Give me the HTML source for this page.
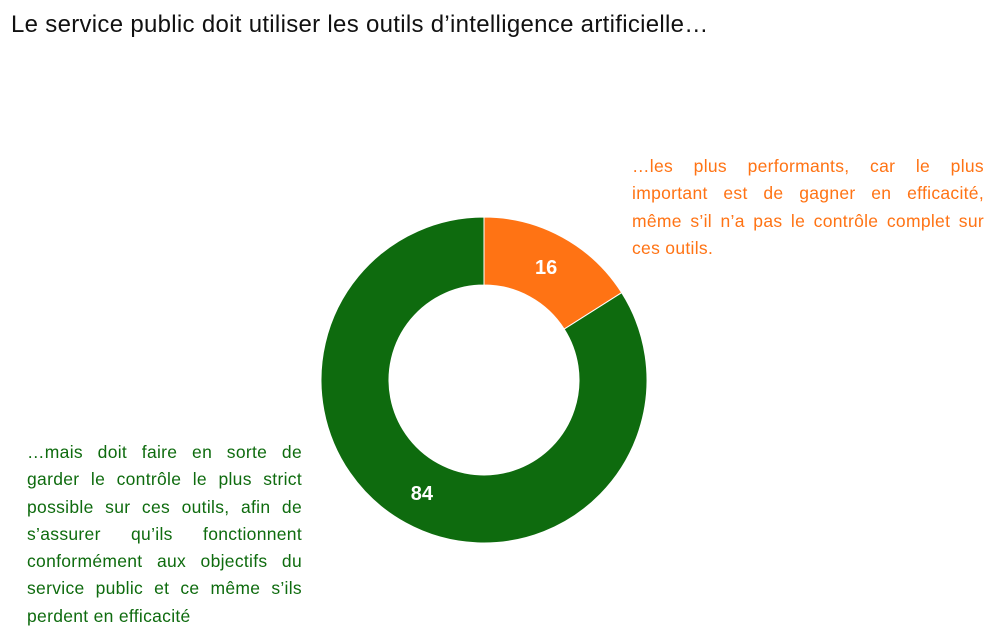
<!DOCTYPE html>
<html><head><meta charset="utf-8">
<style>
body{margin:0;width:999px;height:636px;background:#fff;font-family:"Liberation Sans",sans-serif;position:relative;overflow:hidden}
.title{position:absolute;left:11px;top:11px;font-size:24px;letter-spacing:0.3px;color:#111;white-space:nowrap}
.ann{position:absolute;font-size:17.5px;line-height:27.3px;letter-spacing:0.3px}
.ann div{text-align:justify;text-align-last:justify;white-space:nowrap}
.ann div.last{text-align-last:left}
#a1{left:632px;top:153px;width:352px;color:#FF7314}
#a2{left:27px;top:439px;width:275px;color:#0E6B0E}
svg{position:absolute;left:0;top:0}
</style></head><body>
<div class="title">Le service public doit utiliser les outils d’intelligence artificielle…</div>
<div class="ann" id="a1">
<div>…les plus performants, car le plus</div>
<div>important est de gagner en efficacité,</div>
<div>même s’il n’a pas le contrôle complet sur</div>
<div class="last">ces outils.</div>
</div>
<div class="ann" id="a2">
<div>…mais doit faire en sorte de</div>
<div>garder le contrôle le plus strict</div>
<div>possible sur ces outils, afin de</div>
<div>s’assurer qu’ils fonctionnent</div>
<div>conformément aux objectifs du</div>
<div>service public et ce même s’ils</div>
<div class="last">perdent en efficacité</div>
</div>
<svg id="chart" width="999" height="636"></svg>
<script>
const categories=["performants","controle"];
const values=[16,84];
const labels=["16","84"];
const colors=["#FF7314","#0E6B0E"];
const cx=484,cy=380,R=163,r=95;
const svg=document.getElementById('chart');
const NS="http://www.w3.org/2000/svg";
const total=values.reduce((a,b)=>a+b,0);
function pt(a,rad){return [cx+rad*Math.sin(a),cy-rad*Math.cos(a)];}
let acc=0;
values.forEach((v,i)=>{
  const a0=acc/total*2*Math.PI; acc+=v; const a1=acc/total*2*Math.PI;
  const large=(a1-a0)>Math.PI?1:0;
  const p0=pt(a0,R),p1=pt(a1,R),q1=pt(a1,r),q0=pt(a0,r);
  const path=document.createElementNS(NS,'path');
  path.setAttribute('d',`M${p0[0]},${p0[1]} A${R},${R} 0 ${large} 1 ${p1[0]},${p1[1]} L${q1[0]},${q1[1]} A${r},${r} 0 ${large} 0 ${q0[0]},${q0[1]} Z`);
  path.setAttribute('fill',colors[i]);
  path.setAttribute('stroke','#fff');
  path.setAttribute('stroke-width','1');
  
  
  svg.appendChild(path);
  const m=(a0+a1)/2, lp=pt(m,(R+r)/2);
  const t=document.createElementNS(NS,'text');
  t.setAttribute('x',lp[0]);t.setAttribute('y',lp[1]+7);
  t.setAttribute('text-anchor','middle');
  t.setAttribute('font-size','20');t.setAttribute('font-weight','bold');
  t.setAttribute('fill','#fff');
  t.setAttribute('font-family','Liberation Sans, sans-serif');
  
  
  t.textContent=labels[i];
  svg.appendChild(t);
});
</script>
</body></html>
